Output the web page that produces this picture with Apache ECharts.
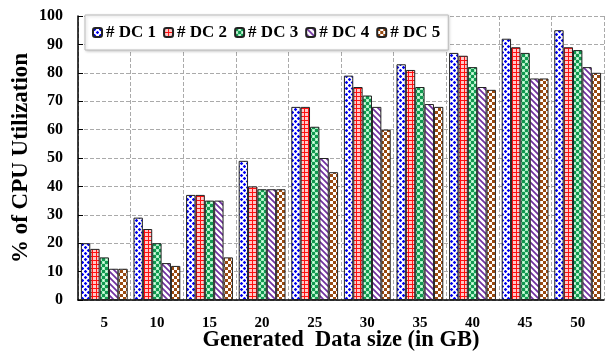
<!DOCTYPE html>
<html><head><meta charset="utf-8">
<script src="https://cdn.jsdelivr.net/npm/echarts@6/dist/echarts.min.js"></script>
<style>html,body{margin:0;padding:0;background:#fff}#c{width:608px;height:352px}</style>
</head><body><div id="c"></div>
<script>
const categories = ['5','10','15','20','25','30','35','40','45','50'];
const seriesNames = ['# DC 1','# DC 2','# DC 3','# DC 4','# DC 5'];
const dc1 = [20, 29, 37, 49, 68, 79, 83, 87, 92, 95];
const dc2 = [18, 25, 37, 40, 68, 75, 81, 86, 89, 89];
const dc3 = [15, 20, 35, 39, 61, 72, 75, 82, 87, 88];
const dc4 = [11, 13, 35, 39, 50, 68, 69, 75, 78, 82];
const dc5 = [11, 12, 15, 39, 45, 60, 68, 74, 78, 80];
const yTicks = [0,10,20,30,40,50,60,70,80,90,100];

function tile(w, h, draw) {
  const c = document.createElement('canvas');
  c.width = w; c.height = h;
  const g = c.getContext('2d');
  draw(g);
  return c;
}
const pats = [
  tile(6, 6, g => { g.fillStyle = '#fff'; g.fillRect(0,0,6,6); g.fillStyle = '#0000f0';
    g.beginPath(); g.moveTo(1.5,-0.3); g.lineTo(3.3,1.5); g.lineTo(1.5,3.3); g.lineTo(-0.3,1.5); g.fill();
    g.beginPath(); g.moveTo(4.5,2.7); g.lineTo(6.3,4.5); g.lineTo(4.5,6.3); g.lineTo(2.7,4.5); g.fill(); }),
  tile(4, 4, g => { g.fillStyle = '#ffc8c8'; g.fillRect(0,0,4,4); g.fillStyle = '#ff1010';
    g.fillRect(0,0,4,1); g.fillRect(0,0,1,4); }),
  tile(6, 6, g => { g.fillStyle = '#a8ecc0'; g.fillRect(0,0,6,6); g.fillStyle = '#109850';
    g.fillRect(0,0,3,3); g.fillRect(3,3,3,3); g.fillStyle = '#e8fff0'; g.fillRect(1,4,1,1); g.fillRect(4,1,1,1); }),
  tile(6, 6, g => { g.fillStyle = '#fff'; g.fillRect(0,0,6,6); g.strokeStyle = '#7030a0'; g.lineWidth = 1.7;
    g.beginPath(); g.moveTo(-1,-1); g.lineTo(7,7); g.moveTo(-4,2); g.lineTo(4,10); g.moveTo(2,-4); g.lineTo(10,4); g.stroke(); }),
  tile(6, 6, g => { g.fillStyle = '#fff'; g.fillRect(0,0,6,6); g.fillStyle = '#9a4a10';
    g.fillRect(0,0,3,3); g.fillRect(3,3,3,3); })
];
const data = [dc1, dc2, dc3, dc4, dc5];
const font = '"Liberation Serif", "Times New Roman", serif';

const chart = echarts.init(document.getElementById('c'), null, {renderer: 'canvas'});
chart.setOption({
  animation: false,
  textStyle: {fontFamily: font},
  grid: {left: 78, right: 4, top: 16, bottom: 52, containLabel: false, outerBoundsMode: 'none'},
  legend: {
    data: seriesNames, left: 85, top: 15, orient: 'horizontal',
    backgroundColor: '#fff', borderColor: '#bbb', borderWidth: 1, padding: [9, 8, 9, 7],
    shadowColor: 'rgba(0,0,0,0.2)', shadowBlur: 3, shadowOffsetX: 1, shadowOffsetY: 1,
    itemWidth: 9, itemHeight: 9, itemGap: 7,
    textStyle: {fontFamily: font, fontWeight: 'bold', fontSize: 17, color: '#000', padding: [0,0,0,-1]}
  },
  xAxis: {
    type: 'category', data: categories,
    name: 'Generated  Data size (in GB)', nameLocation: 'middle', nameGap: 29, nameMoveOverlap: false,
    nameTextStyle: {fontFamily: font, fontWeight: 'bold', fontSize: 22.5, color: '#000'},
    axisLine: {lineStyle: {color: '#000', width: 1.5}},
    axisTick: {inside: true, length: 4, lineStyle: {color: '#000'}},
    axisLabel: {fontFamily: font, fontWeight: 'bold', fontSize: 15, color: '#000', margin: 16},
    splitLine: {show: true, lineStyle: {color: '#aaa', type: 'dashed', width: 1}}
  },
  yAxis: {
    type: 'value', min: 0, max: 100, interval: 10,
    name: '% of CPU Utilization', nameLocation: 'middle', nameGap: 45, nameMoveOverlap: false,
    nameTextStyle: {fontFamily: font, fontWeight: 'bold', fontSize: 23, color: '#000'},
    axisLine: {show: true, lineStyle: {color: '#000', width: 1.5}},
    axisTick: {show: true, inside: true, length: 5, lineStyle: {color: '#000'}},
    axisLabel: {fontFamily: font, fontWeight: 'bold', fontSize: 16, color: '#000', margin: 15,
      formatter: v => yTicks.includes(v) ? String(v) : ''},
    splitLine: {show: true, lineStyle: {color: '#aaa', type: 'dashed', width: 1}}
  },
  series: seriesNames.map((n, i) => ({
    name: n, type: 'bar', data: data[i],
    barGap: '0%', barCategoryGap: '11%',
    itemStyle: {color: {image: pats[i], repeat: 'repeat'}, borderColor: '#222', borderWidth: 1}
  }))
});
</script></body></html>
